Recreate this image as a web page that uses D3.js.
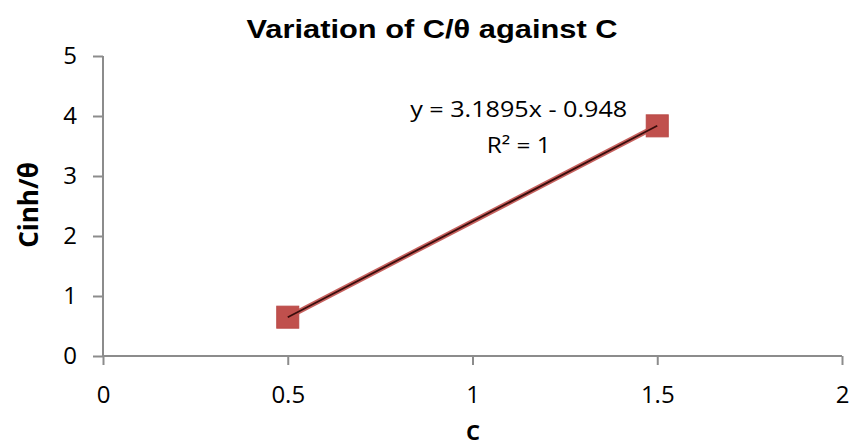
<!DOCTYPE html>
<html>
<head>
<meta charset="utf-8">
<script src="https://cdn.jsdelivr.net/npm/d3@7"></script>
<style>
  body { margin: 0; background: #fff; }
  svg text { fill: #000; }
  .axis path, .axis line { stroke: #8c8c8c; stroke-width: 2; }
  .axis text { font-family: "Open Sans", Lato, sans-serif; font-size: 24px; }
</style>
</head>
<body>
<svg id="chart" width="860" height="445"></svg>
<script>
// data
var cValues = [0.5, 1.5];
var ratioValues = [0.647, 3.836];
var xTicks = [0, 0.5, 1, 1.5, 2];
var yTicks = [0, 1, 2, 3, 4, 5];
var trendSlope = 3.1895;
var trendIntercept = -0.948;
var trendLabel = ["y = 3.1895x - 0.948", "R² = 1"];

var svg = d3.select("#chart");
var margin = { top: 56, right: 18, bottom: 89, left: 103 };
var width = +svg.attr("width") - margin.left - margin.right;
var height = +svg.attr("height") - margin.top - margin.bottom;

var x = d3.scaleLinear().domain([0, 2]).range([0, width]);
var y = d3.scaleLinear().domain([0, 5]).range([height, 0]);

var g = svg.append("g")
  .attr("transform", "translate(" + margin.left + "," + margin.top + ")");

// axes
g.append("g")
  .attr("class", "x axis")
  .attr("transform", `translate(0, ${height})`)
  .call(d3.axisBottom(x).tickValues(xTicks).tickSize(9).tickPadding(21).tickFormat(d3.format("")));

g.append("g")
  .attr("class", "y axis")
  .call(d3.axisLeft(y).tickValues(yTicks).tickSize(10).tickPadding(16).tickFormat(d3.format("")));

// no outer tick caps on the axis lines
g.select(".x.axis .domain").attr("d", `M0,0H${width}`);
g.select(".y.axis .domain").attr("d", `M0,0V${height}`);

// markers
var pts = cValues.map((c, i) => ({ c: c, v: ratioValues[i] }));
g.selectAll(".pt")
  .data(pts)
  .enter()
  .append("rect")
  .attr("class", "pt")
  .attr("x", d => x(d.c) - 11)
  .attr("y", d => y(d.v) - 11)
  .attr("width", 22)
  .attr("height", 22)
  .attr("fill", "#c0504d")
  .attr("stroke", "#b94a47")
  .attr("stroke-width", 1);

// linear trendline
var x0 = d3.min(cValues), x1 = d3.max(cValues);
var trend = [x0, x1].map(c => [x(c), y(trendSlope * c + trendIntercept)]);
g.append("path")
  .attr("d", d3.line()(trend))
  .attr("stroke", "#c0504d")
  .attr("stroke-width", 5)
  .attr("stroke-opacity", 0.9)
  .attr("fill", "none");
g.append("path")
  .attr("d", d3.line()(trend))
  .attr("stroke", "#3a0d0c")
  .attr("stroke-width", 1.8)
  .attr("fill", "none");

// trendline equation
var eqStyle = t => t.attr("text-anchor", "middle")
  .attr("lengthAdjust", "spacingAndGlyphs")
  .style("font-family", "'Open Sans', Lato, sans-serif")
  .style("font-size", "22px");
g.append("text").call(eqStyle)
  .attr("x", x(1.125)).attr("y", y(3.98))
  .attr("textLength", 217)
  .text(trendLabel[0]);
g.append("text").call(eqStyle)
  .attr("x", x(1.125)).attr("y", y(3.38))
  .attr("textLength", 64)
  .text(trendLabel[1]);

// title
svg.append("text")
  .attr("x", 432)
  .attr("y", 38)
  .attr("text-anchor", "middle")
  .attr("textLength", 371)
  .attr("lengthAdjust", "spacingAndGlyphs")
  .style("font-family", "'Liberation Sans', Arial, sans-serif")
  .style("font-weight", "bold")
  .style("font-size", "25px")
  .text("Variation of C/θ against C");

// axis titles
svg.append("text")
  .attr("transform", "translate(38,205) rotate(-90)")
  .attr("text-anchor", "middle")
  .style("font-family", "'Open Sans', Lato, sans-serif")
  .style("font-weight", "bold")
  .style("font-size", "26px")
  .text("Cinh/θ");

svg.append("text")
  .attr("x", 473)
  .attr("y", 440)
  .attr("text-anchor", "middle")
  .style("font-family", "'Open Sans', Lato, sans-serif")
  .style("font-weight", "bold")
  .style("font-size", "22px")
  .text("C");
</script>
</body>
</html>
